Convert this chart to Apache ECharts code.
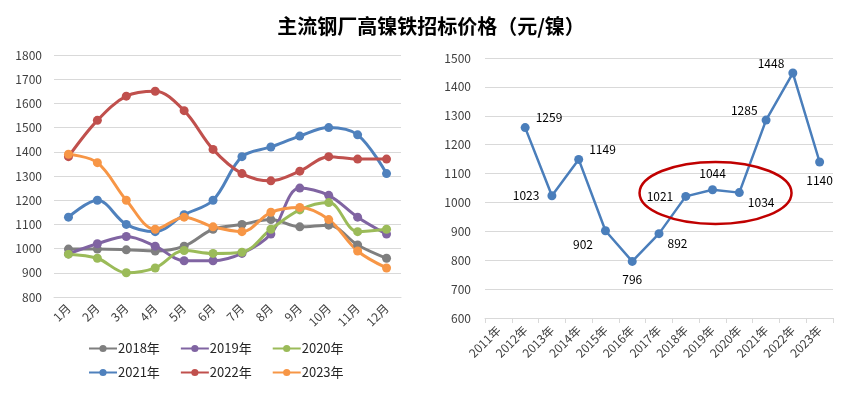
<!DOCTYPE html>
<html>
<head>
<meta charset="utf-8">
<script src="https://cdn.jsdelivr.net/npm/echarts@6/dist/echarts.min.js"></script>
<style>
  html, body { margin: 0; padding: 0; background: #fff; }
  #chart { width: 863px; height: 397px; }
</style>
</head>
<body>
<div id="chart"></div>
<script>
// 左图：月度价格
const months = ['1月', '2月', '3月', '4月', '5月', '6月', '7月', '8月', '9月', '10月', '11月', '12月'];
const y2018 = [998, 998, 995, 990, 1010, 1080, 1100, 1120, 1090, 1097, 1015, 960];
const y2019 = [978, 1020, 1050, 1010, 950, 950, 980, 1060, 1250, 1220, 1130, 1060];
const y2020 = [977, 960, 900, 920, 992, 980, 985, 1080, 1160, 1190, 1070, 1080];
const y2021 = [1130, 1200, 1100, 1070, 1140, 1200, 1380, 1420, 1465, 1500, 1470, 1310];
const y2022 = [1380, 1530, 1630, 1650, 1570, 1410, 1310, 1280, 1320, 1380, 1370, 1370];
const y2023 = [1390, 1355, 1200, 1080, 1130, 1090, 1070, 1150, 1170, 1120, 990, 920];

// 右图：年度价格
const years = ['2011年', '2012年', '2013年', '2014年', '2015年', '2016年', '2017年', '2018年', '2019年', '2020年', '2021年', '2022年', '2023年'];
const yearPrice = [null, 1259, 1023, 1149, 902, 796, 892, 1021, 1044, 1034, 1285, 1448, 1140];
// 数据标签位置
const yearLabelPos = [null, 'right', 'left', 'right', 'bottomLeft', 'bottom', 'bottomRight', 'left', 'top', 'bottomRight', 'topLeft', 'topLeft', 'bottom'];

const seriesDefs = [
  { name: '2018年', data: y2018, color: '#7f7f7f' },
  { name: '2019年', data: y2019, color: '#8064a2' },
  { name: '2020年', data: y2020, color: '#9bbb59' },
  { name: '2021年', data: y2021, color: '#4f81bd' },
  { name: '2022年', data: y2022, color: '#c0504d' },
  { name: '2023年', data: y2023, color: '#f79646' }
];

const labelOffsets = {
  right: { position: 'right', distance: 6, offset: [0, -10] },
  left: { position: 'left', distance: 8, offset: [0, 0] },
  top: { position: 'top', distance: 6, offset: [0, 0] },
  bottom: { position: 'bottom', distance: 8, offset: [0, 0] },
  bottomLeft: { position: 'left', distance: 8, offset: [0, 14] },
  bottomRight: { position: 'right', distance: 4, offset: [0, 10] },
  topLeft: { position: 'left', distance: 4, offset: [0, -10] }
};

const chart = echarts.init(document.getElementById('chart'));

const axisText = { color: '#404040', fontSize: 12, fontFamily: 'Noto Sans CJK SC' };
const gridLine = { lineStyle: { color: '#d9d9d9', width: 1 } };
const plain = v => String(v);

const legendBase = {
  left: 83, itemWidth: 28, itemHeight: 9, itemGap: 20,
  textStyle: { fontSize: 13, color: '#262626', padding: [0, 0, 0, -4] }
};

const option = {
  animation: false,
  textStyle: { fontFamily: 'Noto Sans CJK SC' },
  title: {
    text: '主流钢厂高镍铁招标价格（元/镍）',
    left: 426,
    top: 11,
    textAlign: 'center',
    textStyle: { fontSize: 20, fontWeight: 'bold', color: '#000', fontFamily: 'Noto Sans CJK SC' }
  },
  legend: [
    Object.assign({ data: ['2018年', '2019年', '2020年'], top: 337 }, legendBase),
    Object.assign({ data: ['2021年', '2022年', '2023年'], top: 361 }, legendBase)
  ],
  grid: [
    { left: 54, right: 462, top: 55, bottom: 100 },
    { left: 485, right: 30, top: 58, bottom: 79 }
  ],
  xAxis: [
    {
      gridIndex: 0, type: 'category', data: months, boundaryGap: true,
      axisLine: { lineStyle: { color: '#d9d9d9' } },
      axisTick: { show: false },
      axisLabel: Object.assign({ rotate: 45, margin: 9, interval: 0 }, axisText)
    },
    {
      gridIndex: 1, type: 'category', data: years, boundaryGap: true,
      axisLine: { lineStyle: { color: '#d9d9d9' } },
      axisTick: { show: true, length: 5, lineStyle: { color: '#d9d9d9' } },
      axisLabel: Object.assign({ rotate: 45, margin: 10, interval: 0 }, axisText)
    }
  ],
  yAxis: [
    {
      gridIndex: 0, type: 'value', min: 800, max: 1800, interval: 100,
      axisLine: { show: false }, axisTick: { show: false },
      splitLine: gridLine,
      axisLabel: Object.assign({ margin: 12, formatter: plain }, axisText)
    },
    {
      gridIndex: 1, type: 'value', min: 600, max: 1500, interval: 100,
      axisLine: { show: false }, axisTick: { show: false },
      splitLine: gridLine,
      axisLabel: Object.assign({ margin: 14, formatter: plain }, axisText)
    }
  ],
  series: seriesDefs.map(s => ({
    name: s.name,
    type: 'line',
    xAxisIndex: 0, yAxisIndex: 0,
    data: s.data,
    smooth: 0.35,
    symbol: 'circle',
    symbolSize: 9,
    color: s.color,
    lineStyle: { width: 3, color: s.color },
    itemStyle: { color: s.color }
  })).concat([{
    name: '年度',
    type: 'line',
    xAxisIndex: 1, yAxisIndex: 1,
    data: yearPrice.map((v, i) => v == null ? null : {
      value: v,
      label: labelOffsets[yearLabelPos[i]]
    }),
    symbol: 'circle',
    symbolSize: 9,
    lineStyle: { width: 2.5, color: '#4a7ebb' },
    itemStyle: { color: '#4a7ebb' },
    label: { show: true, color: '#000', fontSize: 12, fontFamily: 'Noto Sans CJK SC' }
  }])
};

chart.setOption(option);

// 红色椭圆标注 2018-2020 年
const center = chart.convertToPixel({ xAxisIndex: 1, yAxisIndex: 1 }, ['2019年', 1033]);
chart.setOption({
  graphic: [{
    type: 'ellipse',
    shape: { cx: center[0] + 3, cy: center[1], rx: 76, ry: 31 },
    style: { fill: 'none', stroke: '#c00000', lineWidth: 2.5 },
    z: 100
  }]
});
</script>
</body>
</html>
